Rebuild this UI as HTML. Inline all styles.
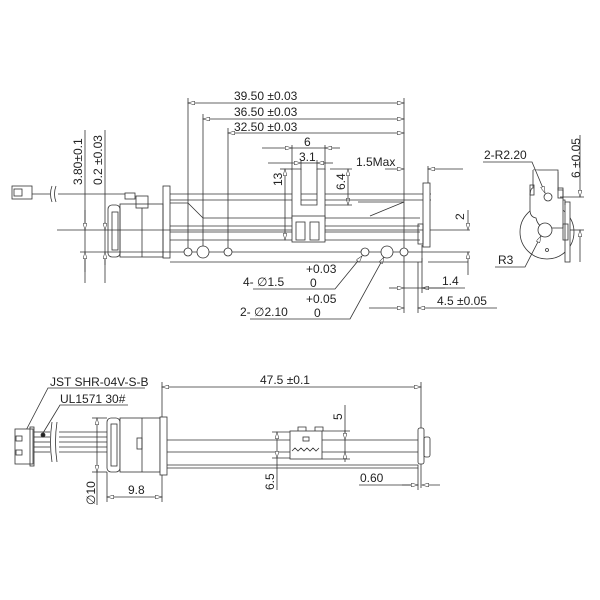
<!DOCTYPE html>
<html><head><meta charset="utf-8"><style>
body{margin:0;background:#fff}
svg{display:block}
text{font-family:"Liberation Sans",sans-serif;font-size:12px;fill:#222}
</style></head><body>
<svg width="600" height="600" viewBox="0 0 600 600" xmlns="http://www.w3.org/2000/svg">
<defs>
<marker id="a" viewBox="0 0 10 6" refX="10" refY="3" markerWidth="10" markerHeight="4" orient="auto-start-reverse" markerUnits="userSpaceOnUse"><path d="M0,0L10,3L0,6z" fill="#fff" stroke="#333" stroke-width="0.8"/></marker>
</defs>
<g stroke="#333" stroke-width="0.8" fill="none">
<line x1="188" y1="103" x2="404" y2="103" marker-start="url(#a)" marker-end="url(#a)"/>
<line x1="203" y1="119" x2="404" y2="119" marker-start="url(#a)" marker-end="url(#a)"/>
<line x1="228" y1="133" x2="404" y2="133" marker-start="url(#a)" marker-end="url(#a)"/>
<line x1="188" y1="98" x2="188" y2="252"/>
<line x1="203" y1="114" x2="203" y2="248"/>
<line x1="228" y1="128" x2="228" y2="252"/>
<line x1="404" y1="98" x2="404" y2="313"/>
<line x1="262" y1="148" x2="292" y2="148" marker-end="url(#a)"/>
<line x1="340" y1="148" x2="325" y2="148" marker-end="url(#a)"/>
<line x1="292" y1="148" x2="325" y2="148"/>
<line x1="268" y1="163" x2="301" y2="163" marker-end="url(#a)"/>
<line x1="333" y1="163" x2="317" y2="163" marker-end="url(#a)"/>
<line x1="301" y1="163" x2="317" y2="163"/>
<line x1="292" y1="145" x2="292" y2="170"/>
<line x1="325" y1="145" x2="325" y2="170"/>
<line x1="301" y1="160" x2="301" y2="170"/>
<line x1="317" y1="160" x2="317" y2="170"/>
<line x1="385" y1="169" x2="404" y2="169" marker-end="url(#a)"/>
<line x1="463" y1="169" x2="428" y2="169" marker-end="url(#a)"/>
<line x1="428" y1="166" x2="428" y2="190"/>
<line x1="330" y1="169" x2="352" y2="169"/>
<line x1="348" y1="169" x2="348" y2="205" marker-start="url(#a)" marker-end="url(#a)"/>
<line x1="325" y1="205" x2="352" y2="205"/>
<line x1="285" y1="169" x2="285" y2="240" marker-start="url(#a)" marker-end="url(#a)"/>
<line x1="280" y1="169" x2="292" y2="169"/>
<line x1="85" y1="130" x2="85" y2="283"/>
<line x1="105" y1="130" x2="105" y2="283"/>
<line x1="85" y1="210" x2="85" y2="230" marker-end="url(#a)"/>
<line x1="85" y1="272" x2="85" y2="252" marker-end="url(#a)"/>
<line x1="105" y1="222" x2="105" y2="230" marker-end="url(#a)"/>
<line x1="105" y1="265" x2="105" y2="252" marker-end="url(#a)"/>
<line x1="57" y1="230" x2="470" y2="230"/>
<line x1="80" y1="252" x2="470" y2="252"/>
<line x1="468" y1="210" x2="468" y2="230" marker-end="url(#a)"/>
<line x1="468" y1="275" x2="468" y2="252" marker-end="url(#a)"/>
<line x1="428" y1="262" x2="468" y2="262"/>
<line x1="389" y1="288" x2="404" y2="288" marker-end="url(#a)"/>
<line x1="445" y1="288" x2="422" y2="288" marker-end="url(#a)"/>
<line x1="404" y1="288" x2="465" y2="288"/>
<line x1="422" y1="258" x2="422" y2="293"/>
<line x1="369" y1="308" x2="404" y2="308" marker-end="url(#a)"/>
<line x1="440" y1="308" x2="418" y2="308" marker-end="url(#a)"/>
<line x1="440" y1="308" x2="497" y2="308"/>
<line x1="418" y1="262" x2="418" y2="313"/>
<polyline points="253,289 335,289 362,256" marker-end="url(#a)"/>
<polyline points="250,319 350,319 384,257" marker-end="url(#a)"/>
<line x1="358" y1="202" x2="404" y2="202"/>
<line x1="404" y1="202" x2="370" y2="216"/>
<rect x="12" y="186" width="20" height="13" fill="#fff"/>
<rect x="14" y="189" width="8" height="7"/>
<line x1="32" y1="194" x2="50" y2="194"/>
<line x1="58" y1="194" x2="125" y2="194"/>
<path d="M52,186q-3,8 0,16M56,186q-3,8 0,16"/>
<rect x="125" y="193" width="10" height="6"/>
<rect x="136" y="196" width="12" height="12"/>
<rect x="108" y="205" width="12" height="52" rx="4"/>
<rect x="112" y="212" width="6" height="38"/>
<rect x="120" y="204" width="43" height="53"/>
<line x1="142" y1="208" x2="142" y2="257"/>
<rect x="163" y="186" width="7" height="72"/>
<line x1="170" y1="194" x2="431" y2="194"/>
<line x1="170" y1="200" x2="431" y2="200"/>
<polyline points="170,203 188,203 203,218 420,218"/>
<line x1="170" y1="226" x2="420" y2="226"/>
<line x1="170" y1="232" x2="420" y2="232"/>
<line x1="170" y1="240" x2="420" y2="240"/>
<polyline points="170,262 422,262 422,245"/>
<rect x="423" y="183" width="7" height="64" fill="#fff"/>
<rect x="418" y="224" width="5" height="20"/>
<path d="M292,169v52h33v-52h-8v36h-16v-36z" fill="#fff"/>
<rect x="292" y="216" width="33" height="26" fill="#fff"/>
<rect x="296" y="222" width="9" height="18"/><rect x="310" y="222" width="9" height="18"/>
<circle cx="188" cy="252" r="4" fill="#fff"/><circle cx="203" cy="252" r="6" fill="#fff"/><circle cx="228" cy="252" r="4" fill="#fff"/>
<circle cx="365" cy="252" r="4" fill="#fff"/><circle cx="387" cy="252" r="6" fill="#fff"/><circle cx="404" cy="252" r="4" fill="#fff"/>
<!-- END VIEW -->
<circle cx="547" cy="232" r="27" fill="#fff"/>
<rect x="565" y="202" width="5" height="60" fill="#fff"/>
<path d="M533,170h25v30h7v5" fill="none"/>
<path d="M533,170v18q-3,0 -3,10v12q0,7 6,8q2,10 12,10h15v-38h-5v-18" fill="#fff"/>
<rect x="530" y="185" width="4" height="10"/>
<rect x="558" y="188" width="5" height="10"/>
<rect x="563" y="224" width="5" height="16"/>
<circle cx="548" cy="197" r="4" fill="#fff"/>
<circle cx="545" cy="230" r="7" fill="#fff"/>
<circle cx="547" cy="250" r="1.5"/>
<polyline points="483,162 532,162 545,193" marker-end="url(#a)"/>
<polyline points="495,267 525,267 541,236" marker-end="url(#a)"/>
<line x1="580" y1="135" x2="580" y2="197" marker-end="url(#a)"/>
<line x1="580" y1="262" x2="580" y2="230" marker-end="url(#a)"/>
<line x1="560" y1="197" x2="584" y2="197"/>
<line x1="570" y1="230" x2="584" y2="230"/>
<!-- BOTTOM VIEW -->
<line x1="162" y1="387" x2="421" y2="387" marker-start="url(#a)" marker-end="url(#a)"/>
<line x1="162" y1="382" x2="162" y2="417"/>
<line x1="421" y1="382" x2="421" y2="488"/>
<polyline points="145,388 48,388 22,438" />
<polyline points="128,405 60,405 43,433"/>
<circle cx="22" cy="438" r="2" fill="#222"/>
<circle cx="43" cy="435" r="2" fill="#222"/>
<rect x="15" y="429" width="18" height="35" fill="#fff"/>
<rect x="30" y="427" width="4" height="39"/>
<rect x="16" y="436" width="6" height="5"/><rect x="16" y="450" width="6" height="5"/>
<line x1="34" y1="432" x2="50" y2="432"/><line x1="34" y1="437" x2="50" y2="437"/><line x1="34" y1="442" x2="50" y2="442"/><line x1="34" y1="447" x2="50" y2="447"/><line x1="34" y1="452" x2="50" y2="452"/>
<path d="M52,422q-3,20 0,40M57,422q-3,20 0,40"/>
<line x1="59" y1="432" x2="108" y2="432"/><line x1="59" y1="437" x2="108" y2="437"/><line x1="59" y1="442" x2="108" y2="442"/><line x1="59" y1="447" x2="108" y2="447"/><line x1="59" y1="452" x2="108" y2="452"/>
<rect x="107" y="418" width="13" height="54" rx="4" fill="#fff"/>
<rect x="111" y="424" width="6" height="42"/>
<rect x="120" y="418" width="40" height="54" fill="#fff"/>
<line x1="142" y1="418" x2="142" y2="472"/>
<rect x="137" y="438" width="5" height="11"/>
<rect x="160" y="417" width="7" height="58" fill="#fff"/>
<line x1="167" y1="440" x2="420" y2="440"/>
<line x1="167" y1="452" x2="420" y2="452"/>
<polyline points="167,465 418,465 418,468 167,468"/>
<rect x="418" y="428" width="6" height="36" rx="2" fill="#fff"/>
<rect x="424" y="437" width="6" height="20" rx="2"/>
<rect x="290" y="431" width="32" height="28" fill="#fff"/>
<path d="M298,431v-4h8v4M315,431v-4h8v4"/>
<rect x="303" y="437" width="6" height="4"/>
<path d="M292,451l3,-3l3,3l3,-3l3,3l3,-3l3,3l3,-3l3,3l3,-3"/>
<line x1="97" y1="418" x2="97" y2="472" marker-start="url(#a)" marker-end="url(#a)"/>
<line x1="92" y1="418" x2="107" y2="418"/><line x1="92" y1="472" x2="107" y2="472"/>
<line x1="97" y1="472" x2="97" y2="505"/>
<line x1="107" y1="497" x2="162" y2="497" marker-start="url(#a)" marker-end="url(#a)"/>
<line x1="107" y1="472" x2="107" y2="502"/><line x1="162" y1="475" x2="162" y2="502"/>
<line x1="277" y1="432" x2="277" y2="458" marker-start="url(#a)" marker-end="url(#a)"/>
<line x1="272" y1="432" x2="290" y2="432"/><line x1="272" y1="458" x2="290" y2="458"/>
<line x1="277" y1="458" x2="277" y2="490"/>
<line x1="345" y1="405" x2="345" y2="458"/>
<line x1="345" y1="430" x2="345" y2="440" marker-end="url(#a)"/>
<line x1="345" y1="462" x2="345" y2="452" marker-end="url(#a)"/>
<line x1="322" y1="431" x2="350" y2="431"/><line x1="322" y1="459" x2="350" y2="459"/>
<line x1="359" y1="485" x2="418" y2="485"/>
<line x1="402" y1="485" x2="418" y2="485" marker-end="url(#a)"/>
<line x1="440" y1="485" x2="422" y2="485" marker-end="url(#a)"/>
<line x1="418" y1="468" x2="418" y2="490"/>
</g>
<g>
<text x="234" y="100">39.50 ±0.03</text>
<text x="234" y="116">36.50 ±0.03</text>
<text x="234" y="131">32.50 ±0.03</text>
<text x="304" y="146">6</text>
<text x="299" y="161">3.1</text>
<text x="356" y="166">1.5Max</text>
<text x="243" y="286">4- ∅1.5</text>
<text x="306" y="273">+0.03</text>
<text x="310" y="287">0</text>
<text x="240" y="316">2- ∅2.10</text>
<text x="306" y="303">+0.05</text>
<text x="314" y="317">0</text>
<text x="442" y="285">1.4</text>
<text x="437" y="305">4.5 ±0.05</text>
<text x="484" y="159">2-R2.20</text>
<text x="498" y="264">R3</text>
<text transform="translate(82,185) rotate(-90)">3.80±0.1</text>
<text transform="translate(102,185) rotate(-90)">0.2 ±0.03</text>
<text transform="translate(282,186) rotate(-90)">13</text>
<text transform="translate(345,190) rotate(-90)">6.4</text>
<text transform="translate(464,220) rotate(-90)">2</text>
<text transform="translate(580,178) rotate(-90)">6 ±0.05</text>
<text x="260" y="384">47.5 ±0.1</text>
<text x="50" y="386">JST SHR-04V-S-B</text>
<text x="60" y="403">UL1571  30#</text>
<text x="128" y="494">9.8</text>
<text x="360" y="482">0.60</text>
<text transform="translate(342,420) rotate(-90)">5</text>
<text transform="translate(274,490) rotate(-90)">6.5</text>
<text transform="translate(95,505) rotate(-90)">∅10</text>
</g>
</svg>
</body></html>
